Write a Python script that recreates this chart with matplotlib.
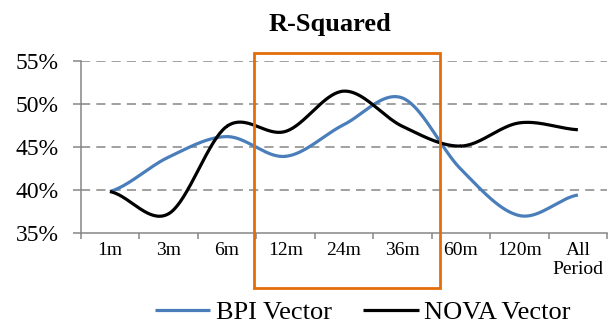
import numpy as np
import matplotlib
matplotlib.use("Agg")
import matplotlib.pyplot as plt
from matplotlib.patches import Rectangle

categories = ["1m", "3m", "6m", "12m", "24m", "36m", "60m", "120m", "All\nPeriod"]
bpi_vector = [39.8, 43.8, 46.2, 43.9, 47.6, 50.7, 42.4, 37.0, 39.4]
nova_vector = [39.8, 37.2, 47.4, 46.8, 51.5, 47.4, 45.1, 47.8, 47.0]
y_ticks = [35, 40, 45, 50, 55]
highlight = (3, 5)  # 12m..36m


def smooth(vals, n=40):
    # catmull-rom through the points, like excel's smoothed line
    p = np.array(vals, dtype=float)
    p = np.concatenate([[p[0]], p, [p[-1]]])
    xs, ys = [], []
    for i in range(len(vals) - 1):
        p0, p1, p2, p3 = p[i], p[i + 1], p[i + 2], p[i + 3]
        t = np.linspace(0, 1, n)
        y = 0.5 * (2 * p1 + (p2 - p0) * t + (2 * p0 - 5 * p1 + 4 * p2 - p3) * t**2
                   + (3 * p1 - p0 - 3 * p2 + p3) * t**3)
        xs.append(i + t)
        ys.append(y)
    return np.concatenate(xs), np.concatenate(ys)


plt.rcParams["font.family"] = ["Liberation Serif", "DejaVu Serif"]
grey = "#868686"

fig = plt.figure(figsize=(6.15, 3.32), dpi=100)
ax = fig.add_axes([0.1312, 0.299, 0.856, 0.517])

x, y = smooth(bpi_vector)
ax.plot(x, y, color="#4A7EBB", lw=2.3, label="BPI Vector", solid_capstyle="butt")
x, y = smooth(nova_vector)
ax.plot(x, y, color="black", lw=2.3, label="NOVA Vector", solid_capstyle="butt")

ax.set_ylim(35, 55)
ax.set_xlim(-0.5, len(categories) - 0.5)
ax.set_yticks(y_ticks)
ax.set_yticklabels([f"{v}%" for v in y_ticks], fontsize=17)
ax.set_xticks(range(len(categories)))
ax.set_xticklabels(categories, fontsize=14, linespacing=1.1)
ax.set_xticks(np.arange(-0.5, len(categories)), minor=True)
ax.tick_params(axis="x", which="major", length=0, pad=7)
ax.tick_params(axis="x", which="minor", length=4, width=1.1, color=grey, direction="out")
ax.tick_params(axis="y", length=6, width=1.1, color=grey, pad=10)

for v in y_ticks[1:]:
    ax.axhline(v, color=grey, lw=1.1, ls=(0, (6, 4)), zorder=0)

for s in ["top", "right"]:
    ax.spines[s].set_visible(False)
for s in ["left", "bottom"]:
    ax.spines[s].set_color(grey)
    ax.spines[s].set_linewidth(1.1)

ax.add_patch(Rectangle((highlight[0] - 0.53, 28.6), highlight[1] - highlight[0] + 1.17, 27.3,
                       fill=False, edgecolor="#E46C0A", lw=2.0, clip_on=False, zorder=5))

fig.text(0.537, 0.907, "R-Squared", fontsize=19, fontweight="bold", ha="center", va="baseline")

fig.legend(loc="center", bbox_to_anchor=(0.59, 0.06), ncol=2, frameon=False, fontsize=19,
           handlelength=2.1, handletextpad=0.2, columnspacing=1.2, borderaxespad=0)

fig.savefig("out.png", dpi=100)
